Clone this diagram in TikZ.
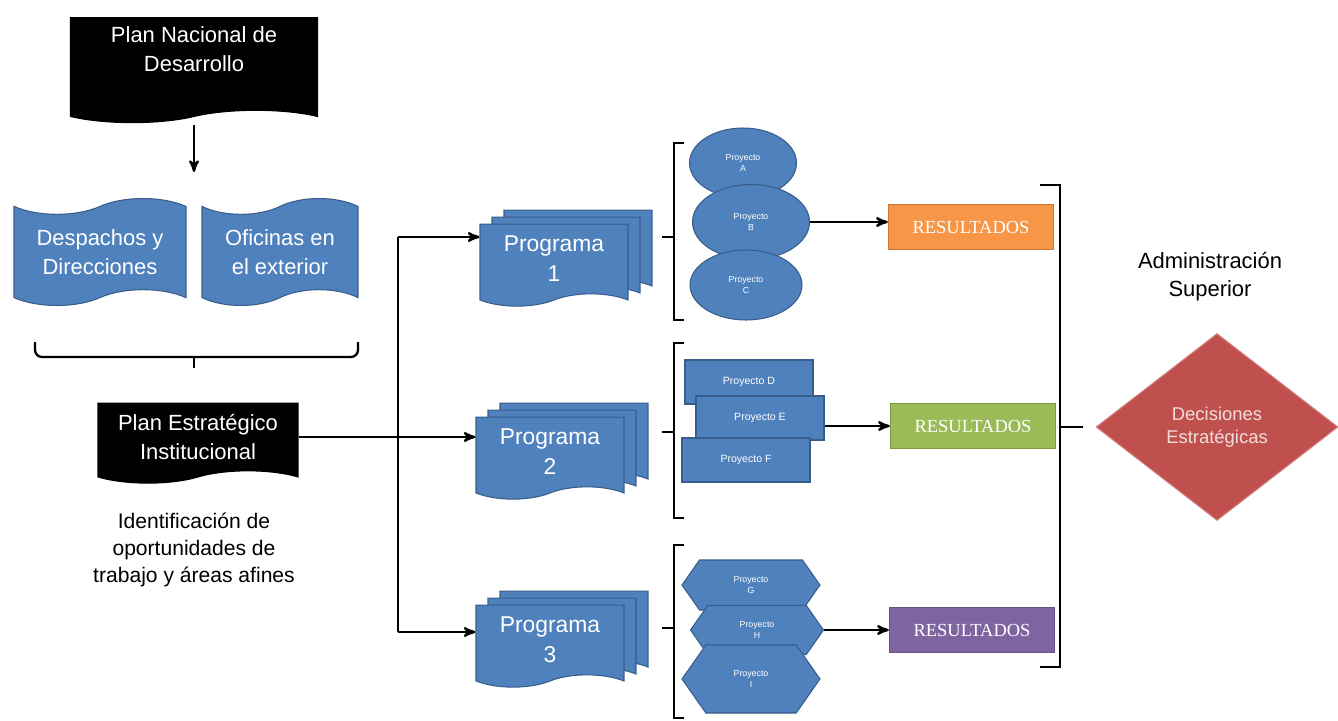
\documentclass[tikz,border=0pt]{standalone}
\usepackage{fontspec}
\setmainfont{Liberation Sans}
\newfontfamily\resfont{Liberation Serif}
\usetikzlibrary{arrows,shapes.symbols,shapes.geometric,shadows}
\definecolor{azul}{HTML}{4F81BD}
\definecolor{azulb}{HTML}{385D8A}
\definecolor{naranja}{HTML}{F79646}
\definecolor{verde}{HTML}{9BBB59}
\definecolor{morado}{HTML}{8064A2}
\definecolor{rojo}{HTML}{C0504D}
\definecolor{rosa}{HTML}{F2DCDB}

\begin{document}
\begin{tikzpicture}[>=stealth',x=0.02cm,y=-0.02cm,line width=1.3pt,
doc/.style={tape,tape bend top=none,tape bend height=7pt,fill=black,draw=black,line width=0.6pt,
  text=white,align=center,inner sep=0pt,font=\fontsize{12.5}{16.5}\selectfont},
cinta/.style={tape,tape bend height=9pt,fill=azul,draw=azulb,line width=0.6pt,
  text=white,align=center,inner sep=0pt,font=\fontsize{12.5}{16.5}\selectfont},
prog/.style={tape,tape bend top=none,tape bend height=7pt,fill=azul,draw=azulb,line width=0.6pt,
  text=white,align=center,inner sep=0pt,font=\fontsize{13}{17}\selectfont,
  minimum width=2.96cm,minimum height=1.64cm,
  double copy shadow={shadow xshift=0.24cm,shadow yshift=0.14cm}},
elip/.style={ellipse,fill=azul,draw=azulb,line width=0.6pt,text=white,align=center,
  inner sep=0pt,font=\fontsize{5}{6.5}\selectfont},
caja/.style={rectangle,fill=azul,draw=azulb,line width=0.6pt,text=white,
  inner sep=0pt,font=\fontsize{6}{7}\selectfont,minimum width=2.56cm,minimum height=0.88cm},
hexa/.style={signal,signal to=west and east,signal pointer angle=110,fill=azul,draw=azulb,
  line width=0.6pt,text=white,align=center,inner sep=0pt,font=\fontsize{5}{6.5}\selectfont},
res/.style={rectangle,fill=#1,draw=#1!80!black,line width=0.8pt,text=white,
  font=\resfont\fontsize{10.5}{12}\selectfont,minimum width=3.3cm,minimum height=0.9cm}]
\useasboundingbox (0,0) rectangle (1338,720);

\node[doc,minimum width=4.94cm,minimum height=2.1cm] (pnd) at (194,64) {Plan Nacional de\\Desarrollo\\ \mbox{}};
\coordinate (flecha) at (194,172);
\draw[->] ([yshift=-8pt]pnd.south) -- (flecha);

\node[cinta,minimum width=3.44cm,minimum height=2.14cm] (desp) at (100,252) {Despachos y\\Direcciones};
\node[cinta,minimum width=3.12cm,minimum height=2.14cm] (ofic) at (280,252) {Oficinas en\\el exterior};
\draw[rounded corners=4pt] (35,342) |- (358,357) -- (358,342);
\draw (194,357) -- (194,368);

\node[doc,minimum width=4.0cm,minimum height=1.6cm] (pei) at (198,437) {Plan Estratégico\\Institucional};
\node[align=center,font=\fontsize{12}{15.6}\selectfont] (ident) at (194,550)
  {Identificación de\\oportunidades de\\trabajo y áreas afines};

\node[prog] (prog1) at (554,259) {Programa\\1};
\node[prog] (prog2) at (550,452) {Programa\\2};
\node[prog] (prog3) at (550,640) {Programa\\3};

\coordinate (b1) at (398,237);
\coordinate (b3) at (398,632);
\draw (b1) -- (b3);
\draw[->] (b1) -- (b1 -| prog1.west);
\draw[->] (pei.east) -- (pei.east -| prog2.west);
\draw[->] (b3) -- (b3 -| prog3.west);

\draw (684,143) -- (674,143) -- (674,320) -- (684,320);
\draw (662,237) -- (674,237);
\draw (684,343) -- (674,343) -- (674,518) -- (684,518);
\draw (662,432) -- (674,432);
\draw (684,545) -- (674,545) -- (674,718) -- (684,718);
\draw (662,628) -- (674,628);

\node[elip,minimum width=2.14cm,minimum height=1.4cm] (pA) at (743,163) {Proyecto\\A};
\node[elip,minimum width=2.34cm,minimum height=1.5cm] (pB) at (751,222) {Proyecto\\B};
\node[elip,minimum width=2.24cm,minimum height=1.4cm] (pC) at (746,285) {Proyecto\\C};

\node[caja] (pD) at (749,382) {Proyecto D};
\node[caja] (pE) at (760,418) {Proyecto E};
\node[caja] (pF) at (746,460) {Proyecto F};

\node[hexa,minimum width=2.76cm,minimum height=1.0cm] (pG) at (751,585) {Proyecto\\G};
\node[hexa,minimum width=2.66cm,minimum height=0.98cm] (pH) at (757,630) {Proyecto\\H};
\node[hexa,minimum width=2.76cm,minimum height=1.36cm] (pI) at (751,679) {Proyecto\\I};

\node[res=naranja] (res1) at (971,227) {RESULTADOS};
\node[res=verde] (res2) at (973,426) {RESULTADOS};
\node[res=morado] (res3) at (972,630) {RESULTADOS};
\draw[->] (pB.east) -- (pB.east -| res1.west);
\draw[->] (pE.east |- res2) -- (res2.west);
\draw[->] (pH.east) -- (pH.east -| res3.west);

\draw (1040,185) -- (1060,185) -- (1060,667) -- (1040,667);

\node[align=center,font=\fontsize{12.5}{16}\selectfont] (admin) at (1210,277) {Administración\\Superior};
\node[diamond,fill=rojo,draw=rojo!70!white,line width=0.6pt,text=rosa,align=center,inner sep=0pt,
  minimum width=4.84cm,minimum height=3.74cm,font=\fontsize{10.5}{13}\selectfont] (dec) at (1217,427)
  {Decisiones\\Estratégicas};
\coordinate (rb) at (1060,427);
\draw (rb) -- ([xshift=-7pt]dec.west);
\end{tikzpicture}
\end{document}
